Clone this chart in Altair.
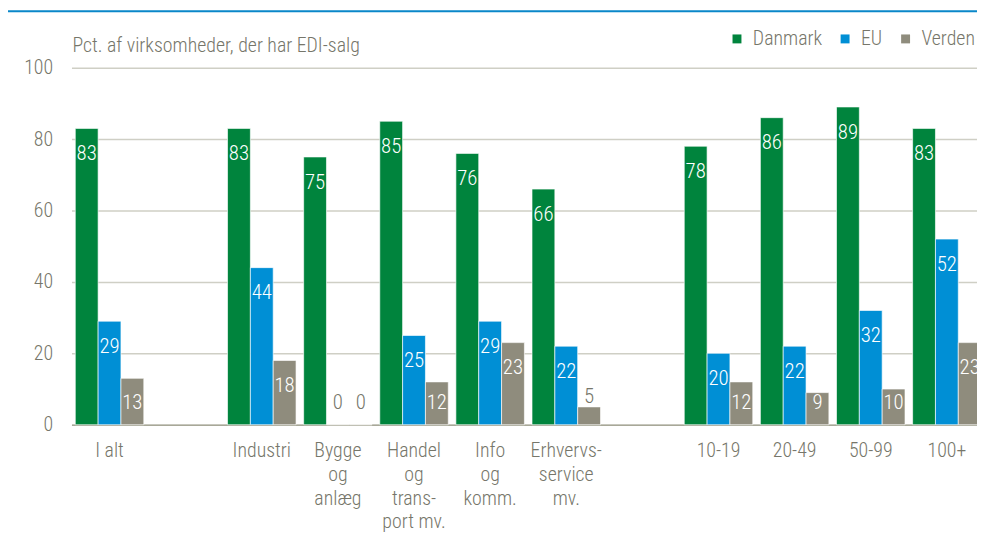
import altair as alt
import pandas as pd

categories = ["I alt", "gap1", "Industri", "Bygge|og|anlæg", "Handel|og|trans-|port mv.",
              "Info|og|komm.", "Erhvervs-|service|mv.", "gap2", "10-19", "20-49", "50-99", "100+"]
series = ["Danmark", "EU", "Verden"]
danmark = [83, None, 83, 75, 85, 76, 66, None, 78, 86, 89, 83]
eu = [29, None, 44, 0, 25, 29, 22, None, 20, 22, 32, 52]
verden = [13, None, 18, 0, 12, 23, 5, None, 12, 9, 10, 23]
y_ticks = [0, 20, 40, 60, 80, 100]
title_text = "Pct. af virksomheder, der har EDI-salg"

colors = ["#00843d", "#008fd5", "#8f8c7d"]
text_gray = "#76766a"
FONT = "Roboto Condensed"
FW = 300

rows = []
for s, vals in zip(series, [danmark, eu, verden]):
    for c, v in zip(categories, vals):
        if v is not None:
            rows.append({"cat": c, "series": s, "value": v})
df = pd.DataFrame(rows)

W = 913
RANGE = 921
H = 360

x_enc = alt.X(
    "cat:N",
    sort=categories,
    scale=alt.Scale(domain=categories, range=[0, RANGE], paddingInner=0.1, paddingOuter=0.05),
    axis=alt.Axis(
        title=None, labelAngle=0, ticks=False,
        labelExpr="indexof(datum.value, 'gap') == 0 ? '' : split(datum.value, '|')",
        labelFontSize=20, labelLineHeight=24, labelPadding=16, labelBaseline="top",
        labelColor=text_gray, labelFont=FONT, labelFontWeight=FW,
        domainColor="#a8a898", domainWidth=1.5, grid=False,
    ),
)
y_axis = alt.Axis(values=y_ticks, title=None, domain=False, ticks=False,
                  labelPadding=19, labelFontSize=20, labelColor=text_gray, labelFont=FONT,
                  labelFontWeight=FW, gridColor="#cfcfc5", gridWidth=1.5)
y_scale = alt.Scale(domain=[0, 100])
xoff = alt.XOffset("series:N", sort=series, scale=alt.Scale(domain=series, paddingInner=0))

base = alt.Chart(df)

bars = base.mark_bar(stroke="white", strokeWidth=0.8, strokeOpacity=0.8).encode(
    x=x_enc,
    xOffset=xoff,
    y=alt.Y("value:Q", scale=y_scale, axis=y_axis),
    color=alt.Color("series:N", scale=alt.Scale(domain=series, range=colors),
                    legend=alt.Legend(orient="none", legendX=661, legendY=-39, direction="horizontal",
                                      title=None, symbolType="square", symbolSize=81,
                                      symbolStrokeWidth=0, symbolOpacity=1, labelFontSize=20,
                                      labelFont=FONT, labelFontWeight=FW, labelColor=text_gray,
                                      labelOffset=6, columnPadding=13, padding=0)),
)

inside = base.transform_filter("datum.value >= 8 || datum.value == 0").transform_calculate(
    anchor="max(datum.value, 13.3)"
).mark_text(baseline="alphabetic", dy=32, fontSize=21, font=FONT, fontWeight=FW).encode(
    x=alt.X("cat:N", sort=categories),
    xOffset=xoff,
    y=alt.Y("anchor:Q", scale=y_scale, axis=y_axis),
    text=alt.Text("value:Q", format=".0f"),
    color=alt.condition("datum.value >= 8", alt.value("white"), alt.value(text_gray)),
)

small = base.transform_filter("datum.value > 0 && datum.value < 8").mark_text(
    baseline="alphabetic", dy=-4, fontSize=21, font=FONT, fontWeight=FW, color=text_gray
).encode(
    x=alt.X("cat:N", sort=categories),
    xOffset=xoff,
    y=alt.Y("value:Q", scale=y_scale, axis=y_axis),
    text=alt.Text("value:Q", format=".0f"),
)

title_layer = alt.Chart(pd.DataFrame({"t": [title_text]})).mark_text(
    align="left", baseline="alphabetic", fontSize=20, font=FONT, fontWeight=FW, color=text_gray
).encode(x=alt.value(1), y=alt.value(-16), text="t:N")

top_line = alt.Chart(pd.DataFrame({"a": [0]})).mark_rule(color="#0a87c9", strokeWidth=2).encode(
    x=alt.value(-64), x2=alt.value(W), y=alt.value(-57)
)

chart = alt.layer(bars, inside, small, title_layer, top_line).properties(
    width=W, height=H,
    autosize=alt.AutoSizeParams(type="none"),
    padding={"left": 64, "top": 58, "right": 0, "bottom": 109},
).configure(font=FONT).configure_view(stroke=None)

chart.save("out.html", embed_options={"renderer": "svg", "actions": False})
